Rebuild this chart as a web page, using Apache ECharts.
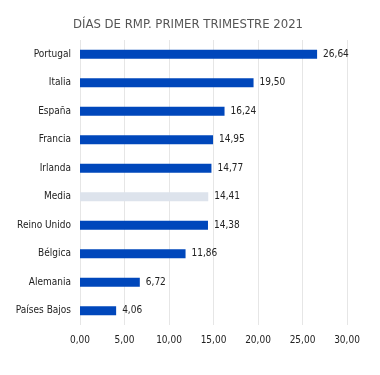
<!DOCTYPE html>
<html>
<head>
<meta charset="utf-8">
<script src="https://cdn.jsdelivr.net/npm/echarts@6/dist/echarts.min.js"></script>
<style>
    html, body { margin: 0; padding: 0; background: #fff; }
    #chart { width: 380px; height: 375px; }
</style>
</head>
<body>
<div id="chart"></div>
<script>
const categories = ['Portugal', 'Italia', 'España', 'Francia', 'Irlanda', 'Media', 'Reino Unido', 'Bélgica', 'Alemania', 'Países Bajos'];
const values = [26.64, 19.50, 16.24, 14.95, 14.77, 14.41, 14.38, 11.86, 6.72, 4.06];
const highlight = 'Media';

function fmt(v) {
    return v.toFixed(2).replace('.', ',');
}

function drawBars(id) {
    var chart = echarts.init(document.getElementById(id));
    let data = [];
    values.forEach(function (val, i) {
        data.push({
            value: val,
            itemStyle: {
                color: categories[i] === highlight ? '#dde3ec' : '#0047bb'
            }
        });
    });
    chart.setOption({
        animation: false,
        title: {
            text: 'DÍAS DE RMP. PRIMER TRIMESTRE 2021',
            left: 183,
            textAlign: 'center',
            top: 13,
            textStyle: {
                fontFamily: 'DejaVu Sans Condensed',
                fontSize: 13,
                fontWeight: 'normal',
                color: '#555'
            }
        },
        grid: {
            left: 80,
            right: 33,
            top: 40,
            bottom: 50
        },
        xAxis: {
            type: 'value',
            min: 0,
            max: 30,
            interval: 5,
            axisLine: { show: false },
            axisTick: { show: false },
            splitLine: { lineStyle: { color: '#e6e6e6' } },
            axisLabel: {
                formatter: fmt,
                fontFamily: 'DejaVu Sans Condensed',
                fontSize: 10,
                color: '#222',
                margin: 10
            }
        },
        yAxis: {
            type: 'category',
            inverse: true,
            data: categories,
            axisLine: { show: false },
            axisTick: { show: false },
            axisLabel: {
                fontFamily: 'DejaVu Sans Condensed',
                fontSize: 10,
                color: '#222',
                margin: 9
            }
        },
        series: [{
            type: 'bar',
            barWidth: 9,
            data: data,
            label: {
                show: true,
                position: 'right',
                distance: 6,
                formatter: function (p) { return fmt(p.value); },
                fontFamily: 'DejaVu Sans Condensed',
                fontSize: 10,
                color: '#222'
            }
        }]
    });
}

drawBars('chart');
</script>
</body>
</html>
